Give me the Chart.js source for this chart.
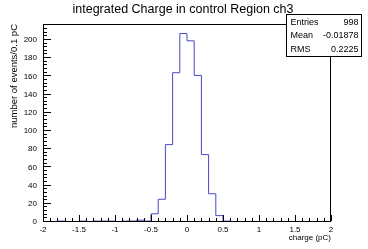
<!DOCTYPE html>
<html>
<head>
<meta charset="utf-8">
<script src="https://cdn.jsdelivr.net/npm/chart.js@4/dist/chart.umd.min.js"></script>
<style>
html,body{margin:0;padding:0;background:#fff;}
canvas{display:block;}
</style>
</head>
<body>
<canvas id="c" width="368" height="249"></canvas>
<script>
const chartTitle = "integrated Charge in control Region ch3";
const xTitle = "charge (pC)";
const yTitle = "number of events/0.1 pC";
const binEdges = [-2.0,-1.9,-1.8,-1.7,-1.6,-1.5,-1.4,-1.3,-1.2,-1.1,-1.0,-0.9,-0.8,-0.7,-0.6,-0.5,-0.4,-0.3,-0.2,-0.1,
  0.0,0.1,0.2,0.3,0.4,0.5,0.6,0.7,0.8,0.9,1.0,1.1,1.2,1.3,1.4,1.5,1.6,1.7,1.8,1.9,2.0];
const counts = [0,0,1,0,0,1,0,1,1,1,0,1,1,2,1,9,25,85,164,207,
  199,161,74,31,7,1,0,0,0,0,0,0,0,0,0,0,0,0,0,0];
const xTickValues = [-2,-1.5,-1,-0.5,0,0.5,1,1.5,2];
const xTickLabels = ["-2","-1.5","-1","-0.5","0","0.5","1","1.5","2"];
const yTickValues = [0,20,40,60,80,100,120,140,160,180,200];
const statsLabels = ["Entries","Mean","RMS"];
const statsValues = ["998","-0.01878","0.2225"];
const xMin = -2, xMax = 2, yMin = 0, yMax = 217.5;

const points = binEdges.map((e,i)=>({x:e, y: i < counts.length ? counts[i] : counts[counts.length-1]}));
const FONT = "'Liberation Sans', Arial, Helvetica, sans-serif";

const rootDecor = {
  id:'rootDecor',
  afterDraw(chart){
    const ctx = chart.ctx, a = chart.chartArea;
    const xs = chart.scales.x, ys = chart.scales.y;
    ctx.save();
    // frame
    ctx.strokeStyle = '#000'; ctx.lineWidth = 1;
    ctx.strokeRect(Math.round(a.left)+0.5, Math.round(a.top)+0.5, Math.round(a.right-a.left)-1, Math.round(a.bottom-a.top)-1);
    // x ticks (inward)
    ctx.beginPath();
    for (let k=0;k<=40;k++){
      const v = -2 + k*0.1;
      const px = Math.round(xs.getPixelForValue(v))+0.5;
      const len = (k%5===0) ? 6 : 3;
      ctx.moveTo(px, a.bottom-1); ctx.lineTo(px, a.bottom-1-len);
    }
    // y ticks (inward)
    for (let v=0; v<=yMax; v+=4){
      const py = Math.round(ys.getPixelForValue(v))-0.5;
      const len = (v%20===0) ? 8 : 4;
      ctx.moveTo(a.left, py); ctx.lineTo(a.left+len, py);
    }
    ctx.stroke();
    // title
    ctx.fillStyle = '#000';
    ctx.font = '12.5px ' + FONT;
    ctx.textAlign = 'center'; ctx.textBaseline = 'middle';
    ctx.fillText(chartTitle, 183, 10);
    // x title
    ctx.font = '8px ' + FONT;
    ctx.textAlign = 'right';
    ctx.fillText(xTitle, a.right, 238);
    // y title
    ctx.save();
    ctx.translate(14, a.top);
    ctx.rotate(-Math.PI/2);
    ctx.font = '9.5px ' + FONT;
    ctx.textAlign = 'right'; ctx.textBaseline = 'middle';
    ctx.fillText(yTitle, 0, 0);
    ctx.restore();
    // stats box
    const bx=286.5, by=14.5, bw=75, bh=42;
    ctx.fillStyle = '#fff';
    ctx.fillRect(bx,by,bw,bh);
    ctx.strokeStyle='#000';
    ctx.strokeRect(bx,by,bw,bh);
    ctx.fillStyle='#000';
    ctx.font = '9px ' + FONT;
    ctx.textBaseline='middle';
    for (let i=0;i<statsLabels.length;i++){
      const ty = 22.5 + i*13.3;
      ctx.textAlign='left'; ctx.fillText(statsLabels[i], bx+4, ty);
      ctx.textAlign='right'; ctx.fillText(statsValues[i], bx+bw-3, ty);
    }
    ctx.restore();
  }
};

new Chart(document.getElementById('c'), {
  type:'line',
  data:{ datasets:[{
    data: points,
    stepped: true,
    borderColor: '#4848c4',
    borderWidth: 1,
    pointRadius: 0,
    fill: false,
    tension: 0
  }]},
  options:{
    responsive:false,
    animation:false,
    devicePixelRatio:1,
    layout:{padding:{top:24,right:37,left:0,bottom:0}},
    plugins:{legend:{display:false}, title:{display:false}, tooltip:{enabled:false}},
    scales:{
      x:{
        type:'linear', min:xMin, max:xMax,
        grid:{display:false, drawTicks:false},
        border:{display:false},
        afterFit(s){ s.height = 27; },
        afterBuildTicks(s){ s.ticks = xTickValues.map(v=>({value:v})); },
        ticks:{
          autoSkip:false, maxRotation:0, padding:3, color:'#000',
          font:{family:FONT, size:8},
          callback(v){ const i = xTickValues.indexOf(v); return i>=0 ? xTickLabels[i] : ''; }
        }
      },
      y:{
        type:'linear', min:yMin, max:yMax,
        grid:{display:false, drawTicks:false},
        border:{display:false},
        afterFit(s){ s.width = 43; },
        afterBuildTicks(s){ s.ticks = yTickValues.map(v=>({value:v})); },
        ticks:{
          autoSkip:false, padding:6, color:'#000',
          font:{family:FONT, size:8},
          callback(v){ return String(v); }
        }
      }
    }
  },
  plugins:[rootDecor]
});
</script>
</body>
</html>
